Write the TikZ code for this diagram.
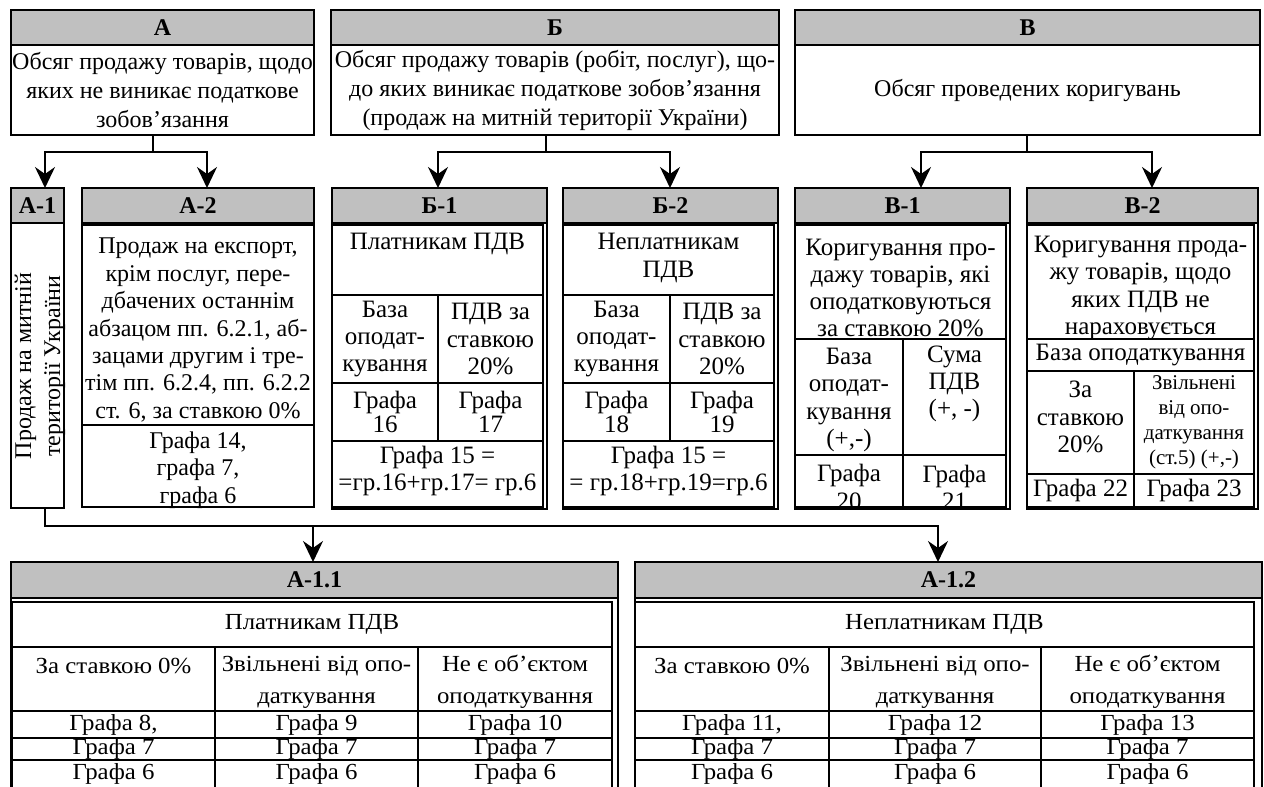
\documentclass[tikz,border=0pt]{standalone}
\usepackage{fontspec}
\setmainfont{Liberation Serif}
\newfontfamily\widefont{Liberation Serif}[FakeStretch=1.08]
\usetikzlibrary{arrows.meta}
\definecolor{hdrgray}{RGB}{192,192,192}
\newcommand\bx[7]{\node[#6, minimum width={(#4-#2)*0.5pt}, minimum height={(#5-#3)*0.5pt}] (#1) at ({(#2+#4)/2},{(#3+#5)/2}) {#7};}
\begin{document}
\begin{tikzpicture}[x=0.5pt,y=-0.5pt,
  hdr/.style={draw, line width=0.7pt, fill=hdrgray, inner sep=0pt, outer sep=0pt, font=\bfseries\fontsize{12}{14}\selectfont},
  box/.style={draw, line width=0.7pt, inner sep=0pt, outer sep=0pt},
  framebox/.style={draw, line width=0.6pt, inner sep=0pt, outer sep=0pt},
  cell/.style={draw, line width=0.9pt, inner sep=0pt, outer sep=0pt},
  tbl/.style={draw, line width=1.4pt, inner sep=0pt, outer sep=0pt},
  txt/.style={inner sep=0pt, align=center, font=\fontsize{12}{14.5}\selectfont},
  txta/.style={inner sep=0pt, align=center, font=\fontsize{12}{13.7}\selectfont},
  txtb/.style={inner sep=0pt, align=center, font=\fontsize{12.5}{13.6}\selectfont},
  txtc/.style={inner sep=0pt, align=center, font=\fontsize{12.5}{11.8}\selectfont},
  txtd/.style={inner sep=0pt, align=center, font=\fontsize{10.5}{12.5}\selectfont},
  txte/.style={inner sep=0pt, align=center, font=\widefont\fontsize{11.5}{16}\selectfont},
  link/.style={line width=1pt},
  arr/.style={line width=1pt, -{Stealth[length=10.5pt, width=10pt, inset=3.5pt]}}
]
\useasboundingbox (0,0) rectangle (1264,787);
\clip (0,0) rectangle (1264,787);

% ---------- top row ----------
\bx{Ah}{11}{10}{314}{45}{hdr}{А}
\bx{Ab}{11}{45}{314}{135}{box,txt}{Обсяг продажу товарів, щодо\\яких не виникає податкове\\зобов’язання}
\bx{Bh}{331}{10}{779}{45}{hdr}{Б}
\bx{Bb}{331}{45}{779}{135}{box,txt}{Обсяг продажу товарів (робіт, послуг), що-\\до яких виникає податкове зобов’язання\\(продаж на митній території України)}
\bx{Vh}{795}{10}{1260}{45}{hdr}{В}
\bx{Vb}{795}{45}{1260}{135}{box,txt}{Обсяг проведених коригувань}

% ---------- A-1 ----------
\bx{A1h}{11}{188}{64}{223}{hdr}{А-1}
\bx{A1b}{11}{223}{64}{508}{framebox}{}
\node[txt, rotate=90] (A1t) at (40,366) {Продаж на митній\\території України};

% ---------- A-2 ----------
\bx{A2h}{82}{188}{314}{223}{hdr}{А-2}
\bx{A2c1}{82}{225}{314}{425}{cell}{}
\node[txta] (A2t1) at (198,330) {Продаж на експорт,\\крім послуг, пере-\\дбачених останнім\\абзацом пп. 6.2.1, аб-\\зацами другим і тре-\\тім пп. 6.2.4, пп. 6.2.2\\ст. 6, за ставкою 0\%};
\bx{A2c2}{82}{425}{314}{507}{cell}{}
\node[txta] (A2t2) at (198,470) {Графа 14,\\графа 7,\\графа 6};
\bx{A2t}{82}{225}{314}{507}{tbl}{}

% ---------- Б-1 ----------
\bx{B1h}{332}{188}{547}{223}{hdr}{Б-1}
\bx{B1f}{332}{223}{547}{509}{framebox}{}
\bx{B1c1}{332}{225}{543}{295}{cell}{}
\node[txtb] (B1t1) at (437.5,244) {Платникам ПДВ};
\bx{B1c2}{332}{295}{438}{383}{cell,txtb}{База\\оподат-\\кування}
\bx{B1c3}{438}{295}{543}{383}{cell,txtb}{ПДВ за\\ставкою\\20\%}
\bx{B1c4}{332}{383}{438}{441}{cell,txtc}{Графа\\16}
\bx{B1c5}{438}{383}{543}{441}{cell,txtc}{Графа\\17}
\bx{B1c6}{332}{441}{543}{507}{cell}{}
\node[txtb] (B1t6) at (437.5,471) {Графа 15 =\\=гр.16+гр.17= гр.6};
\bx{B1t}{332}{225}{543}{507}{tbl}{}

% ---------- Б-2 ----------
\bx{B2h}{563}{188}{778}{223}{hdr}{Б-2}
\bx{B2f}{563}{223}{778}{509}{framebox}{}
\bx{B2c1}{563}{225}{774}{295}{cell}{}
\node[txtb] (B2t1) at (668.5,258) {Неплатникам\\ПДВ};
\bx{B2c2}{563}{295}{670}{383}{cell,txtb}{База\\оподат-\\кування}
\bx{B2c3}{670}{295}{774}{383}{cell,txtb}{ПДВ за\\ставкою\\20\%}
\bx{B2c4}{563}{383}{670}{441}{cell,txtc}{Графа\\18}
\bx{B2c5}{670}{383}{774}{441}{cell,txtc}{Графа\\19}
\bx{B2c6}{563}{441}{774}{507}{cell}{}
\node[txtb] (B2t6) at (668.5,471) {Графа 15 =\\= гр.18+гр.19=гр.6};
\bx{B2t}{563}{225}{774}{507}{tbl}{}

% ---------- В-1 ----------
\bx{V1h}{795}{188}{1010}{223}{hdr}{В-1}
\bx{V1f}{795}{223}{1010}{509}{framebox}{}
\bx{V1c1}{795}{225}{1006}{339}{cell}{}
\node[txtb] (V1t1) at (900.5,288) {Коригування про-\\дажу товарів, які\\оподатковуються\\за ставкою 20\%};
\bx{V1c2}{795}{339}{903}{455}{cell}{}
\node[txtb] (V1t2) at (849,400) {База\\оподат-\\кування\\(+,-)};
\bx{V1c3}{903}{339}{1006}{455}{cell}{}
\node[txtb] (V1t3) at (954.5,384) {Сума\\ПДВ\\(+, -)};
\bx{V1c4}{795}{455}{903}{507}{cell}{}
\node[txtb] (V1t4) at (849,487) {Графа\\20};
\bx{V1c5}{903}{455}{1006}{507}{cell}{}
\node[txtb] (V1t5) at (954.5,487) {Графа\\21};
\bx{V1t}{795}{225}{1006}{507}{tbl}{}

% ---------- В-2 ----------
\bx{V2h}{1027}{188}{1258}{223}{hdr}{В-2}
\bx{V2f}{1027}{223}{1258}{509}{framebox}{}
\bx{V2c1}{1027}{225}{1254}{339}{cell}{}
\node[txtb] (V2t1) at (1140.5,288) {Коригування прода-\\жу товарів, щодо\\яких ПДВ не\\нараховується};
\bx{V2c2}{1027}{339}{1254}{371}{cell,txtb}{База оподаткування}
\bx{V2c3}{1027}{371}{1134}{474}{cell}{}
\node[txtb] (V2t3) at (1080.5,417) {За\\ставкою\\20\%};
\bx{V2c4}{1134}{371}{1254}{474}{cell,txtd}{Звільнені\\від опо-\\даткування\\(ст.5) (+,-)}
\bx{V2c5}{1027}{474}{1134}{507}{cell,txtb}{Графа 22}
\bx{V2c6}{1134}{474}{1254}{507}{cell,txtb}{Графа 23}
\bx{V2t}{1027}{225}{1254}{507}{tbl}{}

% ---------- А-1.1 ----------
\bx{A11h}{11}{562}{618}{598}{hdr}{А-1.1}
\bx{A11f}{11}{598}{618}{800}{framebox}{}
\bx{A11r1}{12}{602}{612}{647}{cell,txte}{Платникам ПДВ}
\bx{A11a}{12}{647}{215}{711}{cell}{}
\node[txte] (A11at) at (113.5,666) {За ставкою 0\%};
\bx{A11b}{215}{647}{418}{711}{cell}{}
\node[txte] (A11bt) at (316.5,682) {Звільнені від опо-\\даткування};
\bx{A11c}{418}{647}{612}{711}{cell}{}
\node[txte] (A11ct) at (515,682) {Не є об’єктом\\оподаткування};
\bx{A11d1}{12}{711}{215}{738}{cell,txte}{Графа 8,}
\bx{A11d2}{215}{711}{418}{738}{cell,txte}{Графа 9}
\bx{A11d3}{418}{711}{612}{738}{cell,txte}{Графа 10}
\bx{A11e1}{12}{738}{215}{760}{cell,txte}{Графа 7}
\bx{A11e2}{215}{738}{418}{760}{cell,txte}{Графа 7}
\bx{A11e3}{418}{738}{612}{760}{cell,txte}{Графа 7}
\bx{A11g1}{12}{760}{215}{790}{cell}{}
\bx{A11g2}{215}{760}{418}{790}{cell}{}
\bx{A11g3}{418}{760}{612}{790}{cell}{}
\node[txte] (A11gt1) at (113.5,774) {Графа 6};
\node[txte] (A11gt2) at (316.5,774) {Графа 6};
\node[txte] (A11gt3) at (515,774) {Графа 6};
\bx{A11t}{12}{602}{612}{790}{tbl}{}

% ---------- А-1.2 ----------
\bx{A12h}{635}{562}{1262}{598}{hdr}{А-1.2}
\bx{A12f}{635}{598}{1262}{800}{framebox}{}
\bx{A12r1}{635}{602}{1254}{647}{cell,txte}{Неплатникам ПДВ}
\bx{A12a}{635}{647}{829}{711}{cell}{}
\node[txte] (A12at) at (732,666) {За ставкою 0\%};
\bx{A12b}{829}{647}{1041}{711}{cell}{}
\node[txte] (A12bt) at (935,682) {Звільнені від опо-\\даткування};
\bx{A12c}{1041}{647}{1254}{711}{cell}{}
\node[txte] (A12ct) at (1147.5,682) {Не є об’єктом\\оподаткування};
\bx{A12d1}{635}{711}{829}{738}{cell,txte}{Графа 11,}
\bx{A12d2}{829}{711}{1041}{738}{cell,txte}{Графа 12}
\bx{A12d3}{1041}{711}{1254}{738}{cell,txte}{Графа 13}
\bx{A12e1}{635}{738}{829}{760}{cell,txte}{Графа 7}
\bx{A12e2}{829}{738}{1041}{760}{cell,txte}{Графа 7}
\bx{A12e3}{1041}{738}{1254}{760}{cell,txte}{Графа 7}
\bx{A12g1}{635}{760}{829}{790}{cell}{}
\bx{A12g2}{829}{760}{1041}{790}{cell}{}
\bx{A12g3}{1041}{760}{1254}{790}{cell}{}
\node[txte] (A12gt1) at (732,774) {Графа 6};
\node[txte] (A12gt2) at (935,774) {Графа 6};
\node[txte] (A12gt3) at (1147.5,774) {Графа 6};
\bx{A12t}{635}{602}{1254}{790}{tbl}{}

% ---------- connectors ----------
\coordinate (jA) at (153,152);
\coordinate (tA1) at (45,188);
\coordinate (tA2) at (207,188);
\draw[link] (Ab.south -| jA) -- (jA);
\draw[arr] (jA) -| (tA1);
\draw[arr] (jA) -| (tA2);

\coordinate (jB) at (546,152);
\coordinate (tB1) at (438,188);
\coordinate (tB2) at (670,188);
\draw[link] (Bb.south -| jB) -- (jB);
\draw[arr] (jB) -| (tB1);
\draw[arr] (jB) -| (tB2);

\coordinate (jV) at (1027,152);
\coordinate (tV1) at (921,188);
\coordinate (tV2) at (1152,188);
\draw[link] (Vb.south -| jV) -- (jV);
\draw[arr] (jV) -| (tV1);
\draw[arr] (jV) -| (tV2);

\coordinate (jL) at (45,526);
\coordinate (jM) at (313,526);
\coordinate (t11) at (313,562);
\coordinate (t12) at (938,562);
\draw[link] (A1b.south -| jL) -- (jL) -- (jM);
\draw[arr] (jM) -- (t11);
\draw[arr] (jM) -| (t12);
\end{tikzpicture}
\end{document}
